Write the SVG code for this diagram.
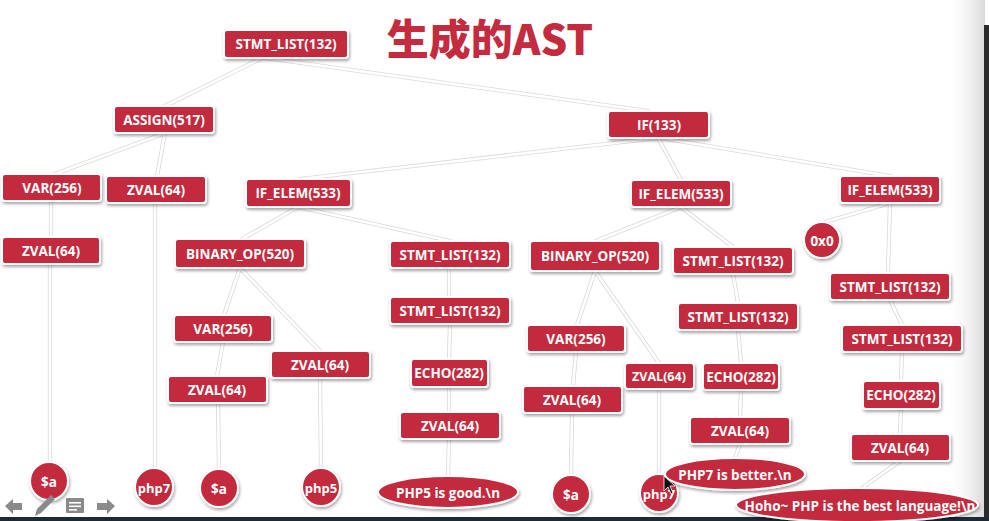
<svg xmlns="http://www.w3.org/2000/svg" width="989" height="521" viewBox="0 0 989 521">
<defs>
<filter id="sh" x="-20%" y="-30%" width="140%" height="170%">
<feDropShadow dx="1" dy="2" stdDeviation="1.6" flood-color="#000" flood-opacity="0.35"/>
</filter>
<linearGradient id="edge" x1="0" y1="0" x2="1" y2="0">
<stop offset="0" stop-color="#ffffff" stop-opacity="0"/>
<stop offset="1" stop-color="#d9d9d9"/>
</linearGradient>
<style>
.n rect, .n ellipse, .n circle { fill:#c42b3e; stroke:#ffffff; stroke-width:2; filter:url(#sh); }
.n text { fill:#ffffff; font-family:"Open Sans","Noto Sans","DejaVu Sans",sans-serif; font-weight:bold; font-size:13.5px; text-anchor:middle; dominant-baseline:central; }
.c1 line { stroke:#dadada; stroke-width:4.2; stroke-linecap:round; }
.c2 line { stroke:#ffffff; stroke-width:2.6; stroke-linecap:round; }
.ic { fill:#8a8a8a; }
</style>
</defs>
<rect x="0" y="0" width="989" height="521" fill="#ffffff"/>
<rect x="945" y="0" width="40" height="517" fill="url(#edge)"/>
<rect x="984" y="25" width="5" height="496" fill="#2b2b2b"/>
<rect x="0" y="517" width="989" height="4" fill="#1b2b36"/>

<text x="490" y="55" font-family="'Noto Sans CJK SC','Noto Sans',sans-serif" font-weight="900" font-size="42" fill="#c42b3e" text-anchor="middle">生成的AST</text>

<g id="connectors">
<g class="c1">
<line x1="262" y1="58" x2="165" y2="106"/>
<line x1="265" y1="58" x2="648" y2="111"/>
<line x1="165" y1="133" x2="55" y2="174"/>
<line x1="165" y1="133" x2="157" y2="176"/>
<line x1="51" y1="201" x2="51" y2="237"/>
<line x1="50" y1="264" x2="50" y2="463"/>
<line x1="155" y1="203" x2="155" y2="468"/>
<line x1="658" y1="138" x2="300" y2="179"/>
<line x1="658" y1="138" x2="681" y2="180"/>
<line x1="660" y1="138" x2="890" y2="176"/>
<line x1="298" y1="207" x2="242" y2="239"/>
<line x1="298" y1="207" x2="450" y2="241"/>
<line x1="240" y1="268" x2="224" y2="315"/>
<line x1="240" y1="268" x2="320" y2="351"/>
<line x1="223" y1="342" x2="217" y2="376"/>
<line x1="218" y1="403" x2="219" y2="469"/>
<line x1="320" y1="378" x2="321" y2="468"/>
<line x1="449" y1="268" x2="449" y2="297"/>
<line x1="450" y1="324" x2="449" y2="359"/>
<line x1="449" y1="387" x2="449" y2="412"/>
<line x1="449" y1="439" x2="448" y2="476"/>
<line x1="681" y1="207" x2="596" y2="241"/>
<line x1="681" y1="207" x2="733" y2="247"/>
<line x1="595" y1="271" x2="577" y2="325"/>
<line x1="595" y1="271" x2="659" y2="363"/>
<line x1="576" y1="352" x2="573" y2="386"/>
<line x1="572" y1="413" x2="571" y2="475"/>
<line x1="659" y1="389" x2="659" y2="474"/>
<line x1="733" y1="274" x2="738" y2="303"/>
<line x1="738" y1="330" x2="741" y2="363"/>
<line x1="741" y1="390" x2="740" y2="417"/>
<line x1="740" y1="444" x2="735" y2="458"/>
<line x1="890" y1="203" x2="825" y2="222"/>
<line x1="890" y1="203" x2="888" y2="273"/>
<line x1="890" y1="300" x2="902" y2="325"/>
<line x1="902" y1="352" x2="901" y2="381"/>
<line x1="901" y1="409" x2="900" y2="434"/>
<line x1="900" y1="461" x2="862" y2="488"/>
</g>
<g class="c2">
<line x1="262" y1="58" x2="165" y2="106"/>
<line x1="265" y1="58" x2="648" y2="111"/>
<line x1="165" y1="133" x2="55" y2="174"/>
<line x1="165" y1="133" x2="157" y2="176"/>
<line x1="51" y1="201" x2="51" y2="237"/>
<line x1="50" y1="264" x2="50" y2="463"/>
<line x1="155" y1="203" x2="155" y2="468"/>
<line x1="658" y1="138" x2="300" y2="179"/>
<line x1="658" y1="138" x2="681" y2="180"/>
<line x1="660" y1="138" x2="890" y2="176"/>
<line x1="298" y1="207" x2="242" y2="239"/>
<line x1="298" y1="207" x2="450" y2="241"/>
<line x1="240" y1="268" x2="224" y2="315"/>
<line x1="240" y1="268" x2="320" y2="351"/>
<line x1="223" y1="342" x2="217" y2="376"/>
<line x1="218" y1="403" x2="219" y2="469"/>
<line x1="320" y1="378" x2="321" y2="468"/>
<line x1="449" y1="268" x2="449" y2="297"/>
<line x1="450" y1="324" x2="449" y2="359"/>
<line x1="449" y1="387" x2="449" y2="412"/>
<line x1="449" y1="439" x2="448" y2="476"/>
<line x1="681" y1="207" x2="596" y2="241"/>
<line x1="681" y1="207" x2="733" y2="247"/>
<line x1="595" y1="271" x2="577" y2="325"/>
<line x1="595" y1="271" x2="659" y2="363"/>
<line x1="576" y1="352" x2="573" y2="386"/>
<line x1="572" y1="413" x2="571" y2="475"/>
<line x1="659" y1="389" x2="659" y2="474"/>
<line x1="733" y1="274" x2="738" y2="303"/>
<line x1="738" y1="330" x2="741" y2="363"/>
<line x1="741" y1="390" x2="740" y2="417"/>
<line x1="740" y1="444" x2="735" y2="458"/>
<line x1="890" y1="203" x2="825" y2="222"/>
<line x1="890" y1="203" x2="888" y2="273"/>
<line x1="890" y1="300" x2="902" y2="325"/>
<line x1="902" y1="352" x2="901" y2="381"/>
<line x1="901" y1="409" x2="900" y2="434"/>
<line x1="900" y1="461" x2="862" y2="488"/>
</g>
</g>

<g id="stmt_list_root" class="n"><rect x="224" y="30" width="124" height="28" rx="3"/><text x="286" y="44">STMT_LIST(132)</text></g>
<g id="assign" class="n"><rect x="114" y="106" width="100" height="27" rx="3"/><text x="164" y="120">ASSIGN(517)</text></g>
<g id="if" class="n"><rect x="608" y="111" width="101" height="27" rx="3"/><text x="659" y="125">IF(133)</text></g>
<g id="var_a" class="n"><rect x="2" y="174" width="99" height="27" rx="3"/><text x="52" y="188">VAR(256)</text></g>
<g id="zval_a" class="n"><rect x="2" y="237" width="98" height="27" rx="3"/><text x="51" y="251">ZVAL(64)</text></g>
<g id="zval_php7a" class="n"><rect x="106" y="176" width="100" height="27" rx="3"/><text x="156" y="190">ZVAL(64)</text></g>
<g id="if_elem1" class="n"><rect x="246" y="179" width="105" height="28" rx="3"/><text x="298" y="193">IF_ELEM(533)</text></g>
<g id="if_elem2" class="n"><rect x="631" y="180" width="100" height="27" rx="3"/><text x="681" y="194">IF_ELEM(533)</text></g>
<g id="if_elem3" class="n"><rect x="840" y="176" width="100" height="27" rx="3"/><text x="890" y="190">IF_ELEM(533)</text></g>
<g id="binop1" class="n"><rect x="175" y="239" width="130" height="29" rx="3"/><text x="240" y="254">BINARY_OP(520)</text></g>
<g id="stmt1a" class="n"><rect x="390" y="241" width="120" height="27" rx="3"/><text x="450" y="255">STMT_LIST(132)</text></g>
<g id="stmt1b" class="n"><rect x="390" y="297" width="120" height="27" rx="3"/><text x="450" y="311">STMT_LIST(132)</text></g>
<g id="var1" class="n"><rect x="174" y="315" width="98" height="27" rx="3"/><text x="223" y="329">VAR(256)</text></g>
<g id="zval1b" class="n"><rect x="271" y="351" width="99" height="27" rx="3"/><text x="320" y="365">ZVAL(64)</text></g>
<g id="zval1a" class="n"><rect x="168" y="376" width="99" height="27" rx="3"/><text x="217" y="390">ZVAL(64)</text></g>
<g id="echo1" class="n"><rect x="411" y="359" width="77" height="28" rx="3"/><text x="449" y="373">ECHO(282)</text></g>
<g id="zval1c" class="n"><rect x="400" y="412" width="100" height="27" rx="3"/><text x="450" y="426">ZVAL(64)</text></g>
<g id="binop2" class="n"><rect x="530" y="241" width="130" height="30" rx="3"/><text x="595" y="256">BINARY_OP(520)</text></g>
<g id="stmt2a" class="n"><rect x="673" y="247" width="120" height="27" rx="3"/><text x="733" y="261">STMT_LIST(132)</text></g>
<g id="stmt2b" class="n"><rect x="678" y="303" width="120" height="27" rx="3"/><text x="738" y="317">STMT_LIST(132)</text></g>
<g id="var2" class="n"><rect x="527" y="325" width="98" height="27" rx="3"/><text x="576" y="339">VAR(256)</text></g>
<g id="zval2b" class="n"><rect x="625" y="363" width="69" height="26" rx="3"/><text x="659" y="376" style="font-size:12.5px">ZVAL(64)</text></g>
<g id="echo2" class="n"><rect x="703" y="363" width="76" height="27" rx="3"/><text x="741" y="377">ECHO(282)</text></g>
<g id="zval2a" class="n"><rect x="523" y="386" width="99" height="27" rx="3"/><text x="572" y="400">ZVAL(64)</text></g>
<g id="zval2c" class="n"><rect x="690" y="417" width="100" height="27" rx="3"/><text x="740" y="431">ZVAL(64)</text></g>
<g id="null0" class="n"><circle cx="822" cy="240" r="18"/><text x="822" y="241">0x0</text></g>
<g id="stmt3a" class="n"><rect x="830" y="273" width="120" height="27" rx="3"/><text x="890" y="287">STMT_LIST(132)</text></g>
<g id="stmt3b" class="n"><rect x="842" y="325" width="120" height="27" rx="3"/><text x="902" y="339">STMT_LIST(132)</text></g>
<g id="echo3" class="n"><rect x="863" y="381" width="77" height="28" rx="3"/><text x="901" y="395">ECHO(282)</text></g>
<g id="zval3" class="n"><rect x="851" y="434" width="99" height="27" rx="3"/><text x="900" y="448">ZVAL(64)</text></g>

<g id="lit_a1" class="n"><circle cx="49" cy="481" r="19"/><text x="49" y="482">$a</text></g>
<g id="lit_php7a" class="n"><circle cx="154" cy="487" r="19"/><text x="154" y="488" style="font-size:13px">php7</text></g>
<g id="lit_a2" class="n"><circle cx="219" cy="488" r="19"/><text x="219" y="489">$a</text></g>
<g id="lit_php5" class="n"><circle cx="321" cy="487" r="19"/><text x="321" y="488" style="font-size:13px">php5</text></g>
<g id="lit_good" class="n"><ellipse cx="448" cy="492" rx="70" ry="16"/><text x="448" y="493">PHP5 is good.\n</text></g>
<g id="lit_a3" class="n"><circle cx="571" cy="494" r="19"/><text x="571" y="495">$a</text></g>
<g id="lit_php7b" class="n"><circle cx="659" cy="493" r="19"/><text x="659" y="494" style="font-size:13px">php7</text></g>
<g id="lit_better" class="n"><ellipse cx="735" cy="474" rx="70" ry="16"/><text x="735" y="475">PHP7 is better.\n</text></g>
<g id="lit_hoho" class="n"><ellipse cx="857" cy="505" rx="121" ry="17"/><text x="860" y="506">Hoho~ PHP is the best language!\n</text></g>

<polygon points="664,476 664,491 668,487 671,494 673,493 670,486 675,486" fill="#111" stroke="#fff" stroke-width="0.8"/>

<g id="nav">
<polygon class="ic" points="5,506 13,499 13,503 22,503 22,510 13,510 13,514"/>
<polygon class="ic" points="35,516 37,509 51,495 55,499 41,513"/>
<rect class="ic" x="66" y="498" width="18" height="15" rx="1"/>
<rect x="69" y="502" width="12" height="1.6" fill="#fff"/>
<rect x="69" y="505.5" width="12" height="1.6" fill="#fff"/>
<rect x="69" y="509" width="8" height="1.6" fill="#fff"/>
<polygon class="ic" points="115,506 107,499 107,503 97,503 97,510 107,510 107,514"/>
</g>
</svg>
